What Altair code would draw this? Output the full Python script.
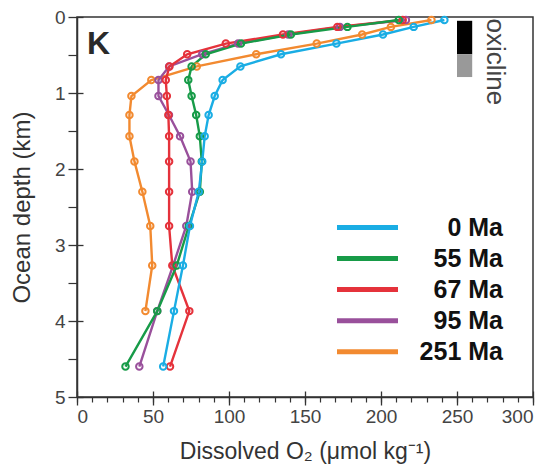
import altair as alt
import pandas as pd

# ---- data ----
depth = [0.04, 0.13, 0.23, 0.35, 0.49, 0.65, 0.83, 1.04, 1.29, 1.57, 1.90, 2.30, 2.75, 3.27, 3.87, 4.60]
o2_0 = [241.7, 221.5, 201.3, 170.7, 134.2, 107.5, 95.8, 90.6, 86.6, 84.0, 82.4, 80.1, 74.3, 69.7, 63.8, 56.7]
o2_55 = [211.7, 177.9, 140.7, 107.9, 84.7, 75.4, 73.2, 75.4, 78.4, 80.8, 82.1, 80.8, 73.6, 65.6, 52.8, 31.9]
o2_67 = [214.3, 171.3, 135.5, 97.9, 72.5, 60.8, 58.4, 59.1, 60.1, 60.6, 60.6, 60.6, 60.6, 62.7, 73.9, 61.2]
o2_95 = [216.4, 173.0, 139.0, 106.0, 82.4, 60.6, 53.6, 53.6, 60.5, 67.8, 74.7, 75.8, 71.9, 63.2, 52.8, 41.0]
o2_251 = [233.2, 206.5, 187.6, 157.7, 117.9, 78.8, 48.9, 35.8, 34.5, 34.5, 37.8, 43.0, 48.2, 49.5, 45.0]

series = ["0 Ma", "55 Ma", "67 Ma", "95 Ma", "251 Ma"]
colors = ["#1AADE4", "#179B48", "#E5323B", "#99509B", "#F28A30"]

x_major = [0, 50, 100, 150, 200, 250, 300]
x_minor = list(range(0, 301, 10))
y_major = [0, 1, 2, 3, 4, 5]
y_minor = [0.5, 1.5, 2.5, 3.5, 4.5]

oxi_labels = ["upper", "lower"]
oxi_x1 = [250.0, 250.0]
oxi_x2 = [260.0, 260.0]
oxi_d1 = [0.05, 0.49]
oxi_d2 = [0.49, 0.79]
oxi_colors = ["#000000", "#999999"]

# drawing order: bottom to top
profiles = {"251 Ma": o2_251, "95 Ma": o2_95, "67 Ma": o2_67, "55 Ma": o2_55, "0 Ma": o2_0}
rows = []
for name, vals in profiles.items():
    for d, v in zip(depth, vals):
        rows.append({"age": name, "depth": d, "o2": v})
df = pd.DataFrame(rows)

oxi = pd.DataFrame({"part": oxi_labels, "x1": oxi_x1, "x2": oxi_x2, "d1": oxi_d1, "d2": oxi_d2})

FONT = "Liberation Sans"
xs = alt.Scale(domain=[0, 300], nice=False, zero=False)
ys = alt.Scale(domain=[0, 5], reverse=True, nice=False, zero=False)
cs = alt.Scale(domain=series, range=colors)

common = dict(grid=False, tickColor="#333333", domainColor="#333333", domainWidth=1.5,
              labelFont=FONT, titleFont=FONT)

x_axis_main = alt.Axis(orient="bottom", values=x_major, tickSize=8, tickWidth=1.3,
                       labelFontSize=19, labelColor="#444444", labelPadding=2,
                       title="Dissolved O₂ (μmol kg⁻¹)", titleFontSize=23,
                       titleFontWeight="normal", titleColor="#333333", titlePadding=14,
                       **common)
y_axis_main = alt.Axis(orient="left", values=y_major, tickSize=9, tickWidth=1.3,
                       labelFontSize=19, labelColor="#444444", labelPadding=3,
                       title="Ocean depth (km)", titleFontSize=24,
                       titleFontWeight="normal", titleColor="#333333", titlePadding=20,
                       **common)

x_axis_minor = alt.Axis(orient="bottom", values=x_minor, tickSize=5, tickWidth=1.2,
                        labels=False, domain=False, title=None, grid=False, tickColor="#333333")
y_axis_minor = alt.Axis(orient="left", values=y_minor, tickSize=9, tickWidth=1.2,
                        labels=False, domain=False, title=None, grid=False, tickColor="#333333")

x_axis_inner = alt.Axis(orient="bottom", values=x_major, tickSize=6, tickWidth=1.3, offset=-6,
                        labels=False, domain=False, title=None, grid=False, tickColor="#333333")
y_axis_inner = alt.Axis(orient="left", values=y_major, tickSize=6, tickWidth=1.3, offset=-6,
                        labels=False, domain=False, title=None, grid=False, tickColor="#333333")

lines = alt.Chart(df).mark_line(strokeWidth=2.4).encode(
    x=alt.X("o2:Q", scale=xs, axis=x_axis_main),
    y=alt.Y("depth:Q", scale=ys, axis=y_axis_main),
    color=alt.Color("age:N", scale=cs, sort=series, legend=alt.Legend(
        orient="none", legendX=278, legendY=198, title=None,
        symbolType="M-6.1,0L6.1,0", symbolSize=100, symbolStrokeWidth=5,
        labelFont=FONT, labelFontSize=25, labelFontWeight="bold", labelColor="#111111",
        labelAlign="right", labelOffset=123, rowPadding=5.05, padding=0)),
    detail="age:N",
    order=alt.Order("depth:Q"),
)

points = alt.Chart(df).mark_point(shape="circle", size=42, strokeWidth=2, filled=False, opacity=1).encode(
    x=alt.X("o2:Q", scale=xs, axis=x_axis_minor),
    y=alt.Y("depth:Q", scale=ys, axis=y_axis_minor),
    color=alt.Color("age:N", scale=cs, legend=None),
)

bars = alt.Chart(oxi).mark_rect().encode(
    x=alt.X("x1:Q", scale=xs, axis=x_axis_inner),
    x2="x2:Q",
    y=alt.Y("d1:Q", scale=ys, axis=y_axis_inner),
    y2="d2:Q",
    fill=alt.Fill("part:N", scale=alt.Scale(domain=oxi_labels, range=oxi_colors), legend=None),
)

oxi_text = alt.Chart(pd.DataFrame({"t": ["oxicline"], "x": [275.0], "d": [0.59]})).mark_text(
    angle=90, fontSize=26, font=FONT, color="#444444", align="center", baseline="middle"
).encode(x=alt.X("x:Q", scale=xs, axis=None), y=alt.Y("d:Q", scale=ys, axis=None), text="t:N")

k_text = alt.Chart(pd.DataFrame({"t": ["K"]})).mark_text(
    fontSize=32, fontWeight="bold", font=FONT, color="#2a2a2a", align="left", baseline="alphabetic"
).encode(x=alt.value(10), y=alt.value(37), text="t:N")

chart = alt.layer(bars, lines, points, oxi_text, k_text).resolve_axis(
    x="independent", y="independent"
).resolve_scale(fill="independent").properties(
    width=456, height=380,
    autosize=alt.AutoSizeParams(type="none"),
    padding={"left": 69, "top": 9, "right": 16, "bottom": 68},
).configure_view(stroke="#333333", strokeWidth=1.5)

chart.save("out.html", embed_options={"renderer": "svg", "actions": False})
